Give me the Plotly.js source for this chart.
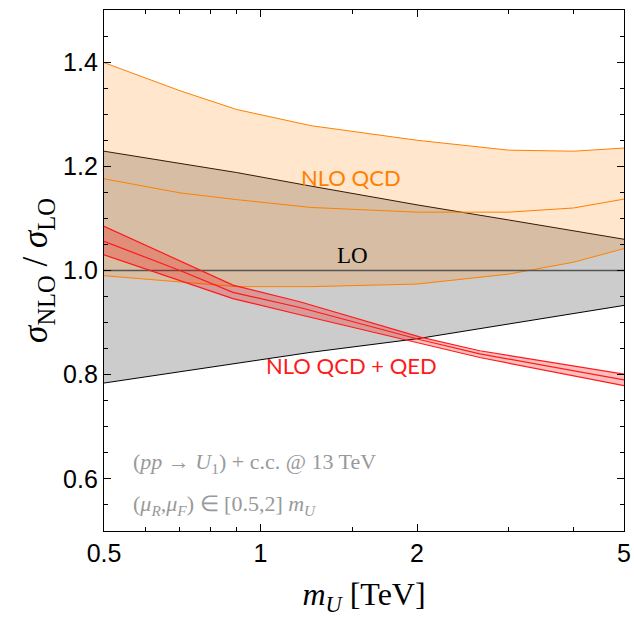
<!DOCTYPE html>
<html>
<head>
<meta charset="utf-8">
<script src="https://cdn.plot.ly/plotly-3.0.1.min.js"></script>
<style>html,body{margin:0;padding:0;background:#fff;}</style>
</head>
<body>
<div id="chart" style="width:634px;height:618px;"></div>
<script>
// m_U grid (TeV)
const massBand = [0.5, 0.7, 0.9, 1.25, 2, 3, 4, 5];
// LO scale band (ratio to central LO)
const loUpper = [1.229, 1.205, 1.188, 1.162, 1.126, 1.097, 1.076, 1.060];
const loLower = [0.784, 0.806, 0.822, 0.843, 0.869, 0.897, 0.917, 0.933];
const loCentralX = [0.5, 5];
const loCentral = [1.0, 1.0];
// NLO QCD band
const nloUpper = [1.399, 1.345, 1.309, 1.278, 1.250, 1.231, 1.229, 1.235];
const nloCentral = [1.176, 1.149, 1.136, 1.121, 1.112, 1.112, 1.120, 1.137];
const nloLower = [0.990, 0.978, 0.969, 0.969, 0.974, 0.993, 1.016, 1.042];
// NLO QCD + QED band
const massQED = [0.5, 0.7, 0.885, 1.19, 2.03, 2.64, 5];
const qedUpper = [1.085, 1.019, 0.972, 0.940, 0.872, 0.846, 0.801];
const qedCentral = [1.056, 1.000, 0.958, 0.929, 0.867, 0.840, 0.790];
const qedLower = [1.030, 0.980, 0.946, 0.915, 0.860, 0.833, 0.779];
// ticks
const xTicks = [0.5, 1, 2, 5];
const xTickText = ['0.5', '1', '2', '5'];
const xMinor = [0.6, 0.7, 0.8, 0.9, 1.5, 3, 4];
const yTicks = [0.6, 0.8, 1.0, 1.2, 1.4];
const yTickText = ['0.6', '0.8', '1.0', '1.2', '1.4'];

const orange = '#ff8000';
const red = '#ff1a1a';
const traces = [
  {x: massBand, y: loLower, mode: 'lines', line: {color: '#000', width: 1}, hoverinfo: 'skip'},
  {x: massBand, y: loUpper, mode: 'lines', fill: 'tonexty', fillcolor: 'rgba(0,0,0,0.2)', line: {color: '#000', width: 1}, hoverinfo: 'skip'},
  {x: massBand, y: nloLower, mode: 'lines', line: {color: orange, width: 1}, hoverinfo: 'skip'},
  {x: massBand, y: nloUpper, mode: 'lines', fill: 'tonexty', fillcolor: 'rgba(255,128,0,0.2)', line: {color: orange, width: 1}, hoverinfo: 'skip'},
  {x: massBand, y: nloCentral, mode: 'lines', line: {color: orange, width: 1}, hoverinfo: 'skip'},
  {x: loCentralX, y: loCentral, mode: 'lines', line: {color: '#555', width: 1.3}, hoverinfo: 'skip'},
  {x: massQED, y: qedLower, mode: 'lines', line: {color: red, width: 1.2}, hoverinfo: 'skip'},
  {x: massQED, y: qedUpper, mode: 'lines', fill: 'tonexty', fillcolor: 'rgba(255,0,0,0.25)', line: {color: red, width: 1.2}, hoverinfo: 'skip'},
  {x: massQED, y: qedCentral, mode: 'lines', line: {color: red, width: 1.2}, hoverinfo: 'skip'}
];

const serif = 'Liberation Serif';
const sans = 'Liberation Sans';
const layout = {
  width: 634, height: 618,
  margin: {l: 104, r: 10, t: 10, b: 87},
  paper_bgcolor: '#fff', plot_bgcolor: '#fff',
  showlegend: false,
  xaxis: {
    type: 'log', range: [Math.log10(0.5), Math.log10(5)],
    tickmode: 'array', tickvals: xTicks, ticktext: xTickText,
    ticks: 'inside', ticklen: 7, tickwidth: 1, tickcolor: '#000',
    minor: {tickmode: 'array', tickvals: xMinor, ticks: 'inside', ticklen: 4, tickwidth: 1, tickcolor: '#000', showgrid: false},
    showline: true, linecolor: '#000', linewidth: 1.2, mirror: 'ticks',
    showgrid: false, zeroline: false,
    tickfont: {family: sans, size: 25, color: '#000'},
    title: {text: '<i>m</i><sub><i>U</i></sub> [TeV]', font: {family: serif, size: 32, color: '#000'}, standoff: 16}
  },
  yaxis: {
    range: [0.5, 1.5],
    tickmode: 'array', tickvals: yTicks, ticktext: yTickText,
    ticks: 'inside', ticklen: 7, tickwidth: 1, tickcolor: '#000',
    minor: {dtick: 0.05, tick0: 0.5, ticks: 'inside', ticklen: 4, tickwidth: 1, tickcolor: '#000', showgrid: false},
    showline: true, linecolor: '#000', linewidth: 1.2, mirror: 'ticks',
    showgrid: false, zeroline: false,
    tickfont: {family: sans, size: 25, color: '#000'},
    title: {text: '<i>σ</i><sub>NLO</sub> / <i>σ</i><sub>LO</sub>', font: {family: serif, size: 35, color: '#000'}, standoff: 4}
  },
  annotations: [
    {xref: 'paper', yref: 'paper', x: 0.475, y: 0.679, text: 'NLO QCD', showarrow: false,
     font: {family: 'Lato', size: 22, color: orange}, xanchor: 'center', yanchor: 'middle'},
    {xref: 'paper', yref: 'paper', x: 0.477, y: 0.528, text: 'LO', showarrow: false,
     font: {family: serif, size: 23, color: '#000'}, xanchor: 'center', yanchor: 'middle'},
    {xref: 'paper', yref: 'paper', x: 0.475, y: 0.317, text: 'NLO QCD + QED', showarrow: false,
     font: {family: 'Lato', size: 22, color: red}, xanchor: 'center', yanchor: 'middle'},
    {xref: 'paper', yref: 'paper', x: 0.052, y: 0.131, text: '(<i>pp</i> → <i>U</i><sub>1</sub>) + c.c. @ 13 TeV', showarrow: false,
     font: {family: serif, size: 22, color: '#999'}, xanchor: 'left', yanchor: 'middle'},
    {xref: 'paper', yref: 'paper', x: 0.052, y: 0.050, text: '(<i>μ</i><sub><i>R</i></sub>,<i>μ</i><sub><i>F</i></sub>) ∈ [0.5,2] <i>m</i><sub><i>U</i></sub>', showarrow: false,
     font: {family: serif, size: 22, color: '#999'}, xanchor: 'left', yanchor: 'middle'}
  ]
};
Plotly.newPlot('chart', traces, layout, {staticPlot: true, displayModeBar: false});
</script>
</body>
</html>
